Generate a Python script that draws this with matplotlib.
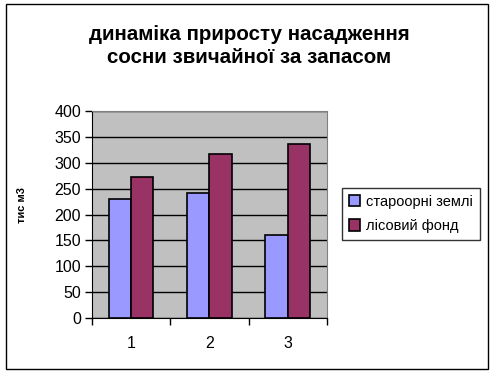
import numpy as np
import matplotlib.pyplot as plt
from matplotlib.patches import Rectangle

plt.rcParams['font.family'] = ['Liberation Sans', 'DejaVu Sans']

# дані, зчитані з діаграми
categories = ['1', '2', '3']
staroorni = [230, 241, 160]
lisovyi = [272, 316, 336]
names = ['староорні землі', 'лісовий фонд']

fig = plt.figure(figsize=(4.96, 3.76), dpi=100)
# рамка навколо всієї діаграми
fig.patches.append(Rectangle((6 / 496, 7 / 376), 482 / 496, 365 / 376,
                             transform=fig.transFigure, fill=False,
                             edgecolor='black', linewidth=1.0))

ax = fig.add_axes([0.1855, 0.154, 0.4735, 0.551])
ax.set_facecolor('#c0c0c0')

x = np.arange(1, len(categories) + 1)
w = 0.285
ax.bar(x - w / 2, staroorni, w, color='#9999ff', edgecolor='black',
       linewidth=1.2, label=names[0], zorder=3)
ax.bar(x + w / 2, lisovyi, w, color='#993366', edgecolor='black',
       linewidth=1.2, label=names[1], zorder=3)

ax.set_xlim(0.5, 3.5)
ax.set_ylim(0, 400)
ax.set_yticks(np.arange(0, 401, 50))
ax.yaxis.grid(True, color='black', linewidth=1.0, zorder=1)
ax.set_axisbelow(True)

ax.set_xticks(x)
ax.set_xticklabels(categories)
ax.set_xticks([0.5, 1.5, 2.5, 3.5], minor=True)
ax.tick_params(axis='x', which='major', length=0, pad=13, labelsize=11.5)
ax.tick_params(axis='x', which='minor', length=5, width=1, direction='out')
ax.tick_params(axis='y', length=5, width=1, direction='out', labelsize=11.5, pad=3)

for s in ['top', 'right']:
    ax.spines[s].set_color('#808080')
for s in ['left', 'bottom']:
    ax.spines[s].set_color('black')

fig.text(249 / 496, 1 - 46 / 376,
         'динаміка приросту насадження\nсосни звичайної за запасом',
         ha='center', va='center', fontsize=14.8, fontweight='bold',
         linespacing=1.25)

fig.text(22 / 496, 1 - 205 / 376, 'тис м3', rotation=90, ha='center',
         va='center', fontsize=8, fontweight='bold')

leg = fig.legend(loc='center', bbox_to_anchor=(411 / 496, 1 - 214 / 376),
                 fontsize=10.5, frameon=True, fancybox=False,
                 handlelength=0.8, handleheight=0.8, handletextpad=0.4,
                 labelspacing=0.7, borderpad=0.5)
leg.get_frame().set_edgecolor('black')
leg.get_frame().set_linewidth(1.0)

fig.savefig('out.png', dpi=100)
